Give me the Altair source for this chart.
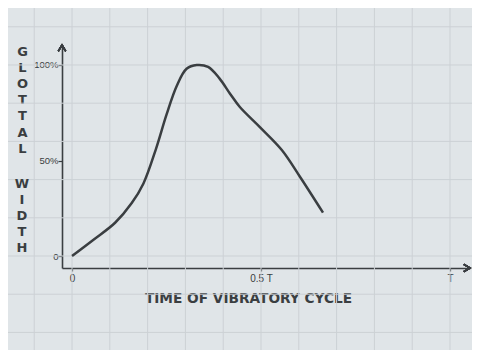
import altair as alt
import pandas as pd

# Curve (fraction of cycle, % of maximal glottal width)
time_frac = [0.0, 0.056, 0.114, 0.158, 0.189, 0.222, 0.25, 0.277, 0.303, 0.33,
             0.36, 0.39, 0.418, 0.444, 0.497, 0.555, 0.603, 0.664]
glottal_width = [0.0, 8.4, 17.4, 27.7, 38.0, 56.0, 74.0, 89.0, 98.0, 100.0,
                 99.0, 93.0, 85.0, 78.0, 67.5, 55.5, 41.5, 22.7]

x_ticks = [0, 0.5, 1]
x_tick_labels = ["0", "0.5 T", "T"]
y_ticks = [0, 50, 100]
y_tick_labels = ["0", "50%", "100%"]

# graph-paper lines
grid_x = [-0.1, 0.0, 0.1, 0.2, 0.3, 0.4, 0.5, 0.6, 0.7, 0.8, 0.9, 1.0, 1.1]
grid_y = [-40, -20, 0, 20, 40, 60, 80, 100, 120]

y_title_word1 = ["G", "L", "O", "T", "T", "A", "L"]
y_title_word2 = ["W", "I", "D", "T", "H"]
x_title = "TIME OF VIBRATORY CYCLE"

X_MIN, X_MAX = -0.0265, 1.0529
Y_MIN, Y_MAX = -6.28, 110.47

BG = "#e0e5e8"
GRID = "#ccd1d5"
INK = "#3a3e41"
FONT = "DejaVu Sans"
LABEL_FONT = "Liberation Sans"

xs = alt.Scale(domain=[X_MIN, X_MAX], nice=False, zero=False)
ys = alt.Scale(domain=[Y_MIN, Y_MAX], nice=False, zero=False)


def label_expr(vals, labels):
    expr = "''"
    for v, l in reversed(list(zip(vals, labels))):
        expr = f"datum.value == {v} ? '{l}' : {expr}"
    return expr


x_axis = alt.Axis(
    values=x_ticks, labelExpr=label_expr(x_ticks, x_tick_labels),
    grid=False, domainColor=INK, domainWidth=1.6, tickColor=INK, tickSize=3,
    tickWidth=1.2, labelColor=INK, labelFont=LABEL_FONT, labelFontSize=10,
    labelPadding=2, labelFlush=False,
    title=x_title, titleFont=FONT, titleFontSize=13.7, titleFontWeight="bold",
    titleColor=INK, titleX=186, titleY=23, titleAlign="center",
    titleBaseline="top", titleAnchor="start",
)
y_axis = alt.Axis(
    values=y_ticks, labelExpr=label_expr(y_ticks, y_tick_labels),
    grid=False, domainColor=INK, domainWidth=1.6, tickColor=INK, tickSize=4,
    tickWidth=1.2, labelColor=INK, labelFont=LABEL_FONT, labelFontSize=9.5,
    labelPadding=0, labelFlush=False,
    title=y_title_word1, titleAngle=0, titleFont=FONT, titleFontSize=13,
    titleFontWeight="bold", titleColor=INK, titleX=-40, titleY=0,
    titleAlign="center", titleBaseline="top", titleLineHeight=16.2,
    titleAnchor="start",
)

curve_df = pd.DataFrame({"t": time_frac, "w": glottal_width})
gx_df = pd.DataFrame({"gx": grid_x})
gy_df = pd.DataFrame({"gy": grid_y})

vgrid = alt.Chart(gx_df).mark_rule(color=GRID, strokeWidth=1, clip=False).encode(
    x=alt.X("gx:Q", scale=xs, axis=x_axis),
    y=alt.Y(datum=-60, scale=ys, axis=y_axis),
    y2=alt.Y2(datum=140),
)
hgrid = alt.Chart(gy_df).mark_rule(color=GRID, strokeWidth=1, clip=False).encode(
    y=alt.Y("gy:Q", scale=ys, axis=y_axis),
    x=alt.X(datum=-0.3, scale=xs, axis=x_axis),
    x2=alt.X2(datum=1.2),
)

curve = alt.Chart(curve_df).mark_line(
    color=INK, strokeWidth=2.5, interpolate="catmull-rom"
).encode(
    x=alt.X("t:Q", scale=xs, axis=x_axis),
    y=alt.Y("w:Q", scale=ys, axis=y_axis),
)

arrow_right = alt.Chart(curve_df).mark_point(
    shape="M-1,-0.6L0,0L-1,0.6", filled=False, stroke=INK, strokeWidth=1.4,
    size=150, clip=False,
).encode(
    x=alt.X(datum=X_MAX, scale=xs, axis=x_axis),
    y=alt.Y(datum=Y_MIN, scale=ys, axis=y_axis),
)
arrow_up = alt.Chart(curve_df).mark_point(
    shape="M-0.6,1L0,0L0.6,1", filled=False, stroke=INK, strokeWidth=1.4,
    size=150, clip=False,
).encode(
    x=alt.X(datum=X_MIN, scale=xs, axis=x_axis),
    y=alt.Y(datum=Y_MAX, scale=ys, axis=y_axis),
)

# second word of the vertical y title
title_word2 = alt.Chart(pd.DataFrame({"k": [0]})).mark_text(
    font=FONT, fontSize=13, fontWeight="bold", color=INK, align="center",
    baseline="top", lineHeight=16, clip=False,
).encode(
    text=alt.value(y_title_word2),
    x=alt.value(-40),
    y=alt.value(133),
)

chart = alt.layer(vgrid, hgrid, curve, arrow_right, arrow_up, title_word2).properties(
    width=408, height=223,
    autosize=alt.AutoSizeParams(type="none"),
    padding={"left": 54, "top": 37, "right": 2, "bottom": 82},
    background=BG,
).configure_view(stroke=None)

chart.save("out.html", embed_options={"renderer": "svg", "actions": False})
